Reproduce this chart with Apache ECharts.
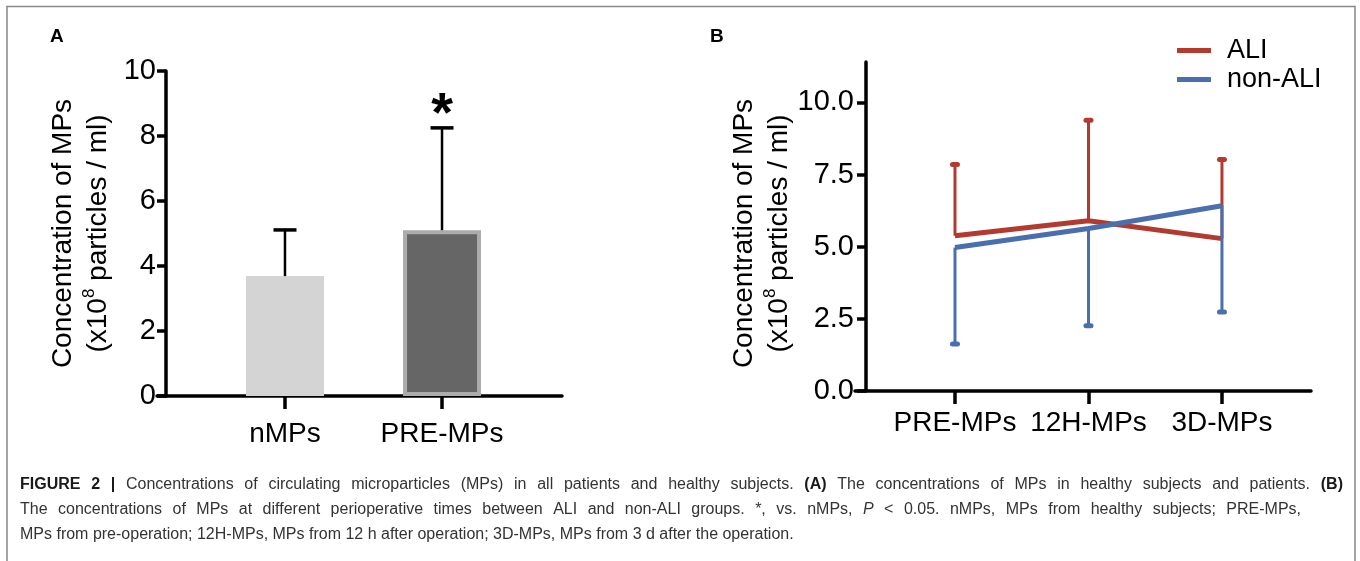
<!DOCTYPE html>
<html><head><meta charset="utf-8">
<script src="https://cdn.jsdelivr.net/npm/echarts@6/dist/echarts.min.js"></script>
<style>html,body{margin:0;padding:0;background:#fff}#c{width:1360px;height:561px}</style>
</head><body><div id="c"></div>
<script>
// ---------- Panel A data ----------
const catsA = ['nMPs', 'PRE-MPs'];
const meanA = [3.69, 5.10];
const upperA = [5.11, 8.25];
const sigA = ['', '*'];
const ticksA = [0, 2, 4, 6, 8, 10];
// ---------- Panel B data ----------
const catsB = ['PRE-MPs', '12H-MPs', '3D-MPs'];
const aliMean = [5.38, 5.90, 5.28];
const aliUpper = [7.85, 9.38, 8.02];
const nonAliMean = [4.97, 5.63, 6.42];
const nonAliLower = [1.63, 2.26, 2.74];
const ticksB = [0, 2.5, 5, 7.5, 10];
// ---------- Caption ----------
const captionLine1 = [['b', 'FIGURE 2 |'], ['n', 'Concentrations of circulating microparticles (MPs) in all patients and healthy subjects.'], ['b', '(A)'], ['n', 'The concentrations of MPs in healthy subjects and patients.'], ['b', '(B)']];
const captionLine2 = [['n', 'The concentrations of MPs at different perioperative times between ALI and non-ALI groups. *, vs. nMPs,'], ['i', 'P'], ['n', '< 0.05. nMPs, MPs from healthy subjects; PRE-MPs,']];
const captionLine3 = [['n', 'MPs from pre-operation; 12H-MPs, MPs from 12 h after operation; 3D-MPs, MPs from 3 d after the operation.']];

const RED = '#b23a2f', BLUE = '#4a6fae';
const FONT = 'Liberation Sans';

function errBar(color, lw, capW, capH, capR, sigArr, sigSize) {
  return function (params, api) {
    const x = api.value(0), v = api.value(1), e = api.value(2);
    const p0 = api.coord([x, v]), p1 = api.coord([x, e]);
    const ch = [
      {type: 'line', shape: {x1: p0[0], y1: p0[1], x2: p1[0], y2: p1[1]}, style: {stroke: color, lineWidth: lw}},
      {type: 'rect', shape: {x: p1[0] - capW / 2, y: p1[1] - capH / 2, width: capW, height: capH, r: capR}, style: {fill: color}}
    ];
    if (sigArr && sigArr[params.dataIndex]) {
      ch.push({type: 'text', style: {text: sigArr[params.dataIndex], x: p1[0], y: p1[1] - 12, align: 'center', verticalAlign: 'middle', fontSize: sigSize, fontWeight: 'bold', fontFamily: FONT, fill: '#000'}});
    }
    return {type: 'group', children: ch};
  };
}

// caption text styles
const CAP = 16;
const capStyles = {
  b: {fontSize: CAP, fontWeight: 'bold', fontFamily: FONT, fill: '#1a1a1a'},
  n: {fontSize: CAP, fontFamily: FONT, fill: '#333'},
  i: {fontSize: CAP, fontStyle: 'italic', fontFamily: FONT, fill: '#333'}
};
const mctx = document.createElement('canvas').getContext('2d');
function fontStr(st) { return (st.fontStyle || 'normal') + ' ' + (st.fontWeight || 'normal') + ' ' + st.fontSize + 'px "' + st.fontFamily + '"'; }
// build a rich string; if target given, spread gaps so the line fills the width
function richLine(segs, target) {
  const words = [];
  segs.forEach(([k, t]) => t.split(' ').filter(w => w).forEach(w => words.push([k, w])));
  let gap;
  if (target) {
    let sum = 0;
    words.forEach(([k, w]) => { mctx.font = fontStr(capStyles[k]); sum += mctx.measureText(w).width; });
    gap = (target - sum) / (words.length - 1);
  } else {
    mctx.font = fontStr(capStyles.n); gap = mctx.measureText(' ').width;
  }
  const rich = Object.assign({g: {fontSize: CAP, fontFamily: FONT, width: gap}}, capStyles);
  const text = words.map(([k, w]) => '{' + k + '|' + w + '}').join('{g| }');
  return {text, rich};
}
const L1 = richLine(captionLine1, 1323), L2 = richLine(captionLine2, 1281), L3 = richLine(captionLine3, 0);

const axisNameRich = {
  a: {fontSize: 28, lineHeight: 35, color: '#000', fontFamily: FONT},
  s: {fontSize: 17, lineHeight: 35, verticalAlign: 'top', color: '#000', fontFamily: FONT}
};
const axisName = '{a|Concentration of MPs}\n{a|(x10}{s|8}{a| particles / ml)}';
const AX = {color: '#000', width: 3.5};

const option = {
  animation: false,
  backgroundColor: '#fff',
  grid: [
    {left: 157, top: 71, width: 405, height: 325, outerBoundsMode: 'none'},
    {left: 855, top: 62, width: 456, height: 329, outerBoundsMode: 'none'}
  ],
  xAxis: [
    {gridIndex: 0, type: 'value', min: -0.815, max: 1.764, splitLine: {show: false},
     axisLine: {onZero: false, lineStyle: AX},
     axisTick: {customValues: [0, 1], length: 13, lineStyle: AX},
     axisLabel: {customValues: [0, 1], formatter: v => catsA[Math.round(v)], fontSize: 28, color: '#000', fontFamily: FONT, margin: 24}},
    {gridIndex: 1, type: 'value', min: -0.749, max: 2.667, splitLine: {show: false},
     axisLine: {onZero: false, lineStyle: AX},
     axisTick: {customValues: [0, 1, 2], length: 13, lineStyle: AX},
     axisLabel: {customValues: [0, 1, 2], formatter: v => catsB[Math.round(v)], fontSize: 28, color: '#000', fontFamily: FONT, margin: 18}}
  ],
  yAxis: [
    {gridIndex: 0, type: 'value', min: 0, max: 10, interval: 2, offset: -9, splitLine: {show: false},
     axisLine: {show: true, onZero: false, lineStyle: AX},
     axisTick: {show: true, customValues: ticksA, length: 9, lineStyle: AX},
     axisLabel: {customValues: ticksA, fontSize: 29, color: '#000', fontFamily: FONT, margin: 10},
     name: axisName, nameLocation: 'middle', nameRotate: 90, nameGap: 50,
     nameTextStyle: {rich: axisNameRich, align: 'center'}},
    {gridIndex: 1, type: 'value', min: 0, max: 11.4, offset: -11, splitLine: {show: false},
     axisLine: {show: true, onZero: false, lineStyle: AX},
     axisTick: {show: true, customValues: ticksB, length: 9, lineStyle: AX},
     axisLabel: {customValues: ticksB, formatter: v => v.toFixed(1), fontSize: 29, color: '#000', fontFamily: FONT, margin: 12},
     name: axisName, nameLocation: 'middle', nameRotate: 90, nameGap: 68,
     nameTextStyle: {rich: axisNameRich, align: 'center', padding: [0, 14, 0, 0]}}
  ],
  legend: {
    data: ['ALI', 'non-ALI'], orient: 'vertical', left: 1177, top: 37, padding: 0,
    itemWidth: 34, itemHeight: 5, itemGap: 2, icon: 'rect',
    textStyle: {fontSize: 27, lineHeight: 27, color: '#000', fontFamily: FONT, padding: [0, 0, 0, 11]}
  },
  series: [
    {type: 'bar', xAxisIndex: 0, yAxisIndex: 0, barWidth: 78, silent: true,
     data: meanA.map((v, i) => ({value: [i, v], itemStyle: i === 0 ? {color: '#d4d4d4'} : {color: '#666666', borderColor: '#acacac', borderWidth: 4}}))},
    {type: 'custom', xAxisIndex: 0, yAxisIndex: 0, renderItem: errBar('#000', 2.5, 23, 3.5, 0, sigA, 56),
     data: meanA.map((v, i) => [i, v, upperA[i]]), z: 5},
    {type: 'custom', name: 'ALI', xAxisIndex: 1, yAxisIndex: 1, renderItem: errBar(RED, 3, 10, 5, 2.5),
     data: aliMean.map((v, i) => [i, v, aliUpper[i]]), z: 2, itemStyle: {color: RED}},
    {type: 'line', name: 'ALI', xAxisIndex: 1, yAxisIndex: 1, data: aliMean.map((v, i) => [i, v]),
     symbol: 'none', lineStyle: {color: RED, width: 5}, itemStyle: {color: RED}, z: 3},
    {type: 'custom', name: 'non-ALI', xAxisIndex: 1, yAxisIndex: 1, renderItem: errBar(BLUE, 3, 10, 5, 2.5),
     data: nonAliMean.map((v, i) => [i, v, nonAliLower[i]]), z: 4, itemStyle: {color: BLUE}},
    {type: 'line', name: 'non-ALI', xAxisIndex: 1, yAxisIndex: 1, data: nonAliMean.map((v, i) => [i, v]),
     symbol: 'none', lineStyle: {color: BLUE, width: 5}, itemStyle: {color: BLUE}, z: 5}
  ],
  graphic: [
    {type: 'polyline', silent: true, shape: {points: [[7, 561], [7, 6.5], [1355, 6.5], [1355, 561]]}, style: {stroke: '#888', lineWidth: 1.5, fill: null}},
    {type: 'text', left: 50, top: 27, style: {text: 'A', fontSize: 19, fontWeight: 'bold', fontFamily: FONT, fill: '#000'}},
    {type: 'text', left: 710, top: 27, style: {text: 'B', fontSize: 19, fontWeight: 'bold', fontFamily: FONT, fill: '#000'}},
    {type: 'text', left: 20, top: 477, style: {text: L1.text, rich: L1.rich}},
    {type: 'text', left: 20, top: 502, style: {text: L2.text, rich: L2.rich}},
    {type: 'text', left: 20, top: 527, style: {text: L3.text, rich: L3.rich}}
  ]
};
const chart = echarts.init(document.getElementById('c'), null, {renderer: 'canvas'});
chart.setOption(option);
</script>
</body></html>
